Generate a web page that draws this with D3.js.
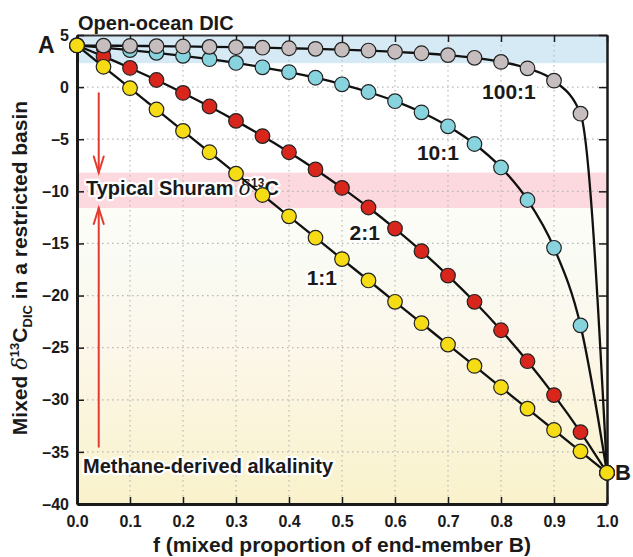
<!DOCTYPE html>
<html>
<head>
<meta charset="utf-8">
<script src="https://cdn.jsdelivr.net/npm/d3@7"></script>
<style>
  html, body { margin: 0; padding: 0; background: #fff; }
  svg { display: block; font-family: "Liberation Sans", Arial, Helvetica, sans-serif; font-weight: bold; }
</style>
</head>
<body>
<svg id="chart" width="633" height="557"></svg>
<script>
// Mixing proportion of end-member B
const fValues = [0, 0.05, 0.1, 0.15, 0.2, 0.25, 0.3, 0.35, 0.4, 0.45, 0.5,
                 0.55, 0.6, 0.65, 0.7, 0.75, 0.8, 0.85, 0.9, 0.95, 1.0];

// Mixed δ13C_DIC (‰) for each DIC ratio A:B
const ratio1 = [4, 1.95, -0.1, -2.15, -4.2, -6.25, -8.3, -10.35, -12.4, -14.45, -16.5,
                -18.55, -20.6, -22.65, -24.7, -26.75, -28.8, -30.85, -32.9, -34.95, -37];
const ratio2 = [4, 2.95, 1.84, 0.68, -0.56, -1.86, -3.24, -4.7, -6.25, -7.9, -9.67,
                -11.55, -13.57, -15.74, -18.08, -20.6, -23.33, -26.3, -29.55, -33.1, -37];
const ratio10 = [4, 3.79, 3.55, 3.29, 3.0, 2.68, 2.32, 1.9, 1.44, 0.9, 0.27,
                 -0.47, -1.35, -2.42, -3.76, -5.46, -7.71, -10.83, -15.42, -22.86, -37];
const ratio100 = [4, 3.98, 3.96, 3.93, 3.9, 3.86, 3.83, 3.78, 3.73, 3.67, 3.59,
                  3.51, 3.39, 3.25, 3.07, 2.81, 2.42, 1.8, 0.62, -2.55, -37];

const xTicks = [0, 0.1, 0.2, 0.3, 0.4, 0.5, 0.6, 0.7, 0.8, 0.9, 1.0];
const yTicks = [5, 0, -5, -10, -15, -20, -25, -30, -35, -40];

// Shaded δ13C ranges
const openOcean = [2.3, 5];
const shuram = [-11.6, -8.2];

const series = [
  { name: "10:1",  values: ratio10,  fill: "#87d4df", label: [0.681, -7.0] },
  { name: "2:1",   values: ratio2,   fill: "#d8261d", label: [0.543, -14.7] },
  { name: "100:1", values: ratio100, fill: "#c6bebe", label: [0.815, -1.15] },
  { name: "1:1",   values: ratio1,   fill: "#f5dc14", label: [0.462, -19.0] }
];

const svg = d3.select("#chart");
const x = d3.scaleLinear().domain([0, 1]).range([77, 607]);
const y = d3.scaleLinear().domain([-40, 5]).range([504, 35]);

// Background bands
const defs = svg.append("defs");
const grad = defs.append("linearGradient").attr("id", "lowerFill")
  .attr("x1", 0).attr("y1", 0).attr("x2", 0).attr("y2", 1);
grad.append("stop").attr("offset", "0%").attr("stop-color", "#fdfdf8");
grad.append("stop").attr("offset", "15%").attr("stop-color", "#f9fbf4");
grad.append("stop").attr("offset", "45%").attr("stop-color", "#fcf7eb");
grad.append("stop").attr("offset", "100%").attr("stop-color", "#f9f2cb");

svg.append("rect").attr("x", x(0)).attr("width", x(1) - x(0))
  .attr("y", y(shuram[0])).attr("height", y(-40) - y(shuram[0]))
  .attr("fill", "url(#lowerFill)");
svg.append("rect").attr("x", x(0)).attr("width", x(1) - x(0))
  .attr("y", y(shuram[1])).attr("height", y(shuram[0]) - y(shuram[1]))
  .attr("fill", "#fcd9df");
svg.append("rect").attr("x", x(0)).attr("width", x(1) - x(0))
  .attr("y", y(openOcean[1])).attr("height", y(openOcean[0]) - y(openOcean[1]))
  .attr("fill", "#d6eaf6");

// Dotted grid
const grid = svg.append("g").attr("stroke", "#b9b9b9").attr("stroke-width", 1.2)
  .attr("stroke-dasharray", "1.6,3.4");
grid.selectAll("line.v").data(xTicks.slice(1, -1)).join("line")
  .attr("x1", d => x(d)).attr("x2", d => x(d)).attr("y1", y(5)).attr("y2", y(-40));
grid.selectAll("line.h").data(yTicks.slice(1, -1)).join("line")
  .attr("x1", x(0)).attr("x2", x(1)).attr("y1", d => y(d)).attr("y2", d => y(d));

// Red arrows pointing to the Shuram band
const arrowColor = "#e53a2f";
const arrows = svg.append("g").attr("stroke", arrowColor).attr("stroke-width", 2)
  .attr("fill", "none").attr("stroke-linecap", "round");
const ax = x(0.041);
arrows.append("line").attr("x1", ax).attr("x2", ax).attr("y1", y(-0.6)).attr("y2", y(-8.2));
arrows.append("path").attr("d", `M${ax - 5},${y(-8.2) - 16}L${ax},${y(-8.2)}L${ax + 5},${y(-8.2) - 16}`);
arrows.append("line").attr("x1", ax).attr("x2", ax).attr("y1", y(-34.5)).attr("y2", y(-11.6));
arrows.append("path").attr("d", `M${ax - 5},${y(-11.6) + 16}L${ax},${y(-11.6)}L${ax + 5},${y(-11.6) + 16}`);

// Band annotations with white halo
function halo(sel) {
  return sel.attr("stroke", "#fff").attr("stroke-width", 4.5)
    .attr("stroke-linejoin", "round").attr("paint-order", "stroke").attr("fill", "#1a1a1a");
}
halo(svg.append("text").attr("x", 86).attr("y", 195).attr("font-size", 20))
  .call(t => {
    t.append("tspan").text("Typical Shuram ");
    t.append("tspan").attr("font-style", "italic").attr("font-family", "'DejaVu Serif', serif").attr("font-weight", "normal").text("δ");
    t.append("tspan").attr("font-size", 12).attr("dy", -8).text("13");
    t.append("tspan").attr("dy", 8).text("C");
  });
halo(svg.append("text").attr("x", 83).attr("y", 473).attr("font-size", 20))
  .text("Methane-derived alkalinity");

// Mixing curves
const line = d3.line().x((d, i) => x(fValues[i])).y(d => y(d)).curve(d3.curveMonotoneX);
svg.append("g").selectAll("path").data(series).join("path")
  .attr("d", d => line(d.values)).attr("fill", "none")
  .attr("stroke", "#111").attr("stroke-width", 2.3);

// Frame and axes
const xAxisB = svg.append("g").attr("transform", `translate(0,${y(-40)})`)
  .call(d3.axisBottom(x).tickValues(xTicks).tickFormat(d3.format(".1f"))
    .tickSizeInner(-7).tickSizeOuter(0).tickPadding(12));
const xAxisT = svg.append("g").attr("transform", `translate(0,${y(5)})`)
  .call(d3.axisTop(x).tickValues(xTicks).tickFormat("").tickSizeInner(-7).tickSizeOuter(0));
const yFmt = d => d < 0 ? "\u2013" + Math.abs(d) : String(d);
const yAxisL = svg.append("g").attr("transform", `translate(${x(0)},0)`)
  .call(d3.axisLeft(y).tickValues(yTicks).tickFormat(yFmt)
    .tickSizeInner(-7).tickSizeOuter(0).tickPadding(8));
const yAxisR = svg.append("g").attr("transform", `translate(${x(1)},0)`)
  .call(d3.axisRight(y).tickValues(yTicks).tickFormat("").tickSizeInner(-8).tickSizeOuter(0));

[xAxisB, xAxisT, yAxisL, yAxisR].forEach(g => {
  g.selectAll("text").attr("font-size", 16).attr("font-family", null).attr("fill", "#1a1a1a");
  g.selectAll(".tick line").attr("stroke", "#1a1a1a").attr("stroke-width", 1.5);
  g.select(".domain").attr("stroke", "#1a1a1a");
});
xAxisB.select(".domain").attr("stroke-width", 3);
yAxisL.select(".domain").attr("stroke-width", 3);
xAxisT.select(".domain").attr("stroke-width", 2).attr("stroke", "#333");
yAxisR.select(".domain").attr("stroke-width", 2.5);

// Points
series.forEach(s => {
  svg.append("g").selectAll("circle").data(s.values).join("circle")
    .attr("cx", (d, i) => x(fValues[i])).attr("cy", d => y(d)).attr("r", 7.3)
    .attr("fill", s.fill).attr("stroke", "#222").attr("stroke-width", 1.2);
});

// Ratio labels
svg.append("g").selectAll("text").data(series).join("text")
  .attr("x", d => x(d.label[0])).attr("y", d => y(d.label[1]))
  .attr("text-anchor", "middle").attr("font-size", 21)
  .text(d => d.name)
  .call(halo);

// End-member and range labels
svg.append("text").attr("x", 38).attr("y", 53).attr("font-size", 23).attr("fill", "#1a1a1a").text("A");
svg.append("text").attr("x", 615).attr("y", 480).attr("font-size", 22).attr("fill", "#1a1a1a").text("B");
svg.append("text").attr("x", 78).attr("y", 30).attr("font-size", 20).attr("fill", "#1a1a1a").text("Open-ocean DIC");

// Axis titles
svg.append("text").attr("x", x(0.5)).attr("y", 552).attr("text-anchor", "middle")
  .attr("font-size", 21).attr("fill", "#1a1a1a").text("f (mixed proportion of end-member B)");
svg.append("text").attr("transform", `translate(27,${268}) rotate(-90)`)
  .attr("text-anchor", "middle").attr("font-size", 21).attr("fill", "#1a1a1a")
  .call(t => {
    t.append("tspan").text("Mixed ");
    t.append("tspan").attr("font-style", "italic").attr("font-family", "'DejaVu Serif', serif").attr("font-weight", "normal").text("δ");
    t.append("tspan").attr("font-size", 13).attr("dy", -8).text("13");
    t.append("tspan").attr("dy", 8).text("C");
    t.append("tspan").attr("font-size", 13).attr("dy", 5).text("DIC");
    t.append("tspan").attr("dy", -5).text(" in a restricted basin");
  });
</script>
</body>
</html>
